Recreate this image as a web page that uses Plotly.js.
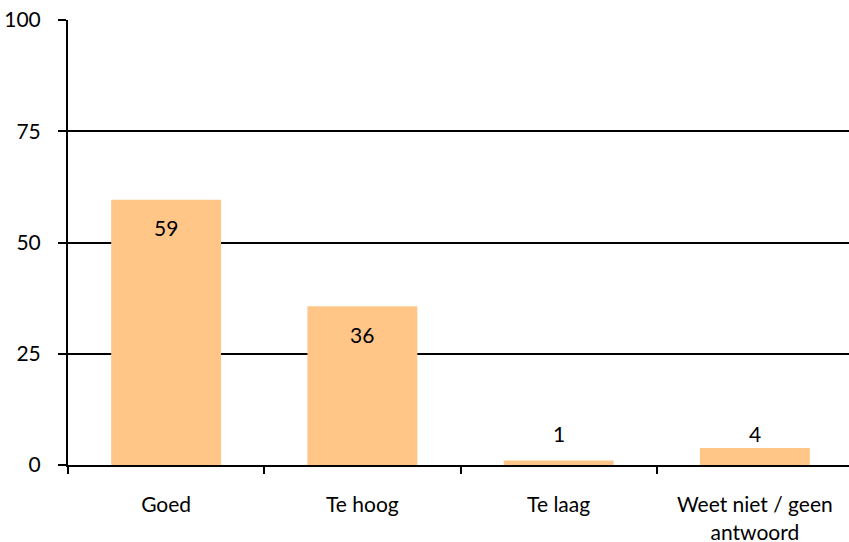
<!DOCTYPE html>
<html><head><meta charset="utf-8">
<script src="https://cdn.plot.ly/plotly-3.0.1.min.js"></script>
<style>html,body{margin:0;padding:0;background:#fff;overflow:hidden}</style>
</head><body><div id="chart" style="width:853px;height:542px"></div>
<script>
const categories = ['Goed', 'Te hoog', 'Te laag', 'Weet niet / geen<br>antwoord'];
const values = [59.6, 35.7, 1.0, 3.8];
const labels = ['59', '36', '1', '4'];
const yTicks = [0, 25, 50, 75, 100];

const FONT = {family: 'Lato, "Open Sans", sans-serif', size: 21, color: '#000'};
const inside = values.map(v => v > 10);
const annotations = values.map((v, i) => ({
  x: categories[i], y: inside[i] ? v : Math.max(v, 3.8),
  xref: 'x', yref: 'y', text: labels[i], showarrow: false,
  yanchor: inside[i] ? 'middle' : 'bottom', yshift: inside[i] ? -28 : 0,
  font: FONT
}));

Plotly.newPlot('chart', [{
  type: 'bar', x: categories, y: values,
  marker: {color: '#FFC688', line: {width: 0}},
  hoverinfo: 'none'
}], {
  width: 853, height: 542,
  margin: {l: 68, r: 0, t: 20, b: 77},
  paper_bgcolor: '#fff', plot_bgcolor: '#fff',
  bargap: 0.44, showlegend: false,
  font: FONT,
  xaxis: {
    showline: true, linecolor: '#000', linewidth: 2,
    ticks: 'outside', tickson: 'boundaries', ticklen: 7, tickwidth: 2, tickcolor: '#000',
    showgrid: false, ticklabelstandoff: 20, fixedrange: true
  },
  yaxis: {
    range: [0, 100], tickvals: yTicks, ticktext: yTicks.map(String),
    showline: true, linecolor: '#000', linewidth: 2,
    ticks: 'outside', ticklen: 8, tickwidth: 2, tickcolor: '#000',
    showgrid: true, gridcolor: '#000', gridwidth: 2, zeroline: false,
    ticklabelstandoff: 13, fixedrange: true
  },
  annotations: annotations
}, {displayModeBar: false, staticPlot: true});
</script></body></html>
